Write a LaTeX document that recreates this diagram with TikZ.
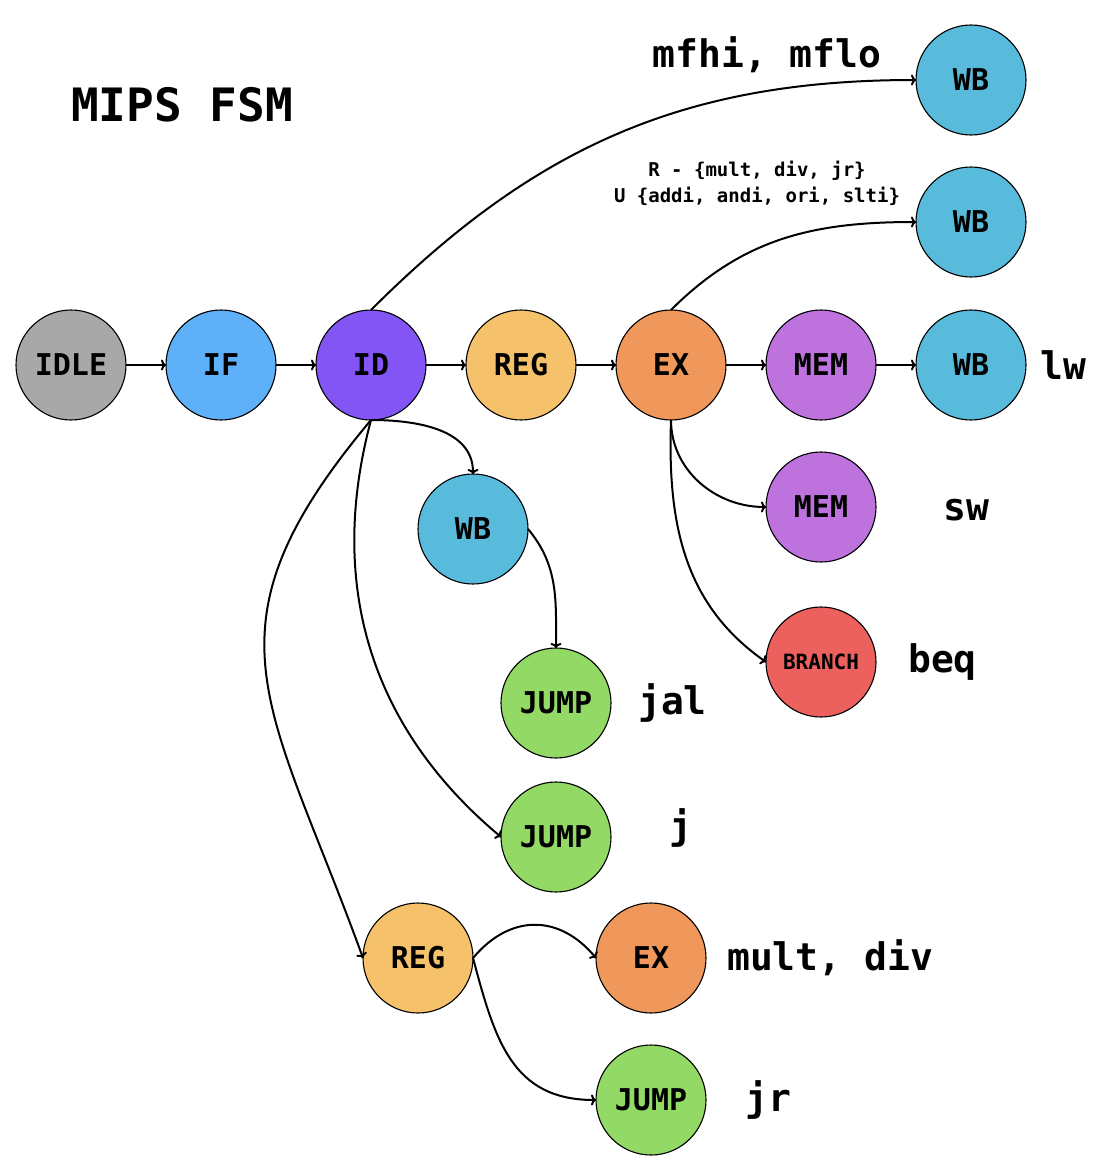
\documentclass[tikz,border=0pt]{standalone}
\usepackage{fontspec}
\setmonofont{DejaVu Sans Mono}
\usetikzlibrary{positioning, arrows.meta}

\definecolor{idlegray}{HTML}{A8A8A8}
\definecolor{ifblue}{HTML}{5EB1F9}
\definecolor{idpurple}{HTML}{8455F5}
\definecolor{regorange}{HTML}{F5C26B}
\definecolor{exorange}{HTML}{F0975B}
\definecolor{mempurple}{HTML}{BE72DE}
\definecolor{wbblue}{HTML}{59BBDB}
\definecolor{jumpgreen}{HTML}{93D966}
\definecolor{branchred}{HTML}{EC605E}

\tikzset{
  fsmstate/.style={circle, draw=black, line width=1.1pt, minimum size=110pt,
    inner sep=0pt, outer sep=0pt, font=\ttfamily\bfseries\fontsize{30}{30}\selectfont},
  trans/.style={-{To[length=5pt, width=11pt]}, line width=2pt},
  instr/.style={inner sep=0pt, font=\ttfamily\bfseries\fontsize{38}{38}\selectfont},
}

\begin{document}
\begin{tikzpicture}[x=1pt, y=-1pt]
\useasboundingbox (0,0) rectangle (1106,1164);

\node[inner sep=0pt, font=\ttfamily\bfseries\fontsize{46}{46}\selectfont] (title) at (182,105) {MIPS FSM};

% main pipeline
\node[fsmstate, fill=idlegray]                    (IDLE) at (71,365) {IDLE};
\node[fsmstate, fill=ifblue, right=40pt of IDLE]  (IF)   {IF};
\node[fsmstate, fill=idpurple, right=40pt of IF]  (ID)   {ID};
\node[fsmstate, fill=regorange, right=40pt of ID] (REG)  {REG};
\node[fsmstate, fill=exorange, right=40pt of REG] (EX)   {EX};
\node[fsmstate, fill=mempurple, right=40pt of EX] (MEM)  {MEM};
\node[fsmstate, fill=wbblue, right=40pt of MEM]   (WBlw) {WB};
\node[instr, right=14pt of WBlw] (lw) {lw};

\draw[trans] (IDLE) -- (IF);
\draw[trans] (IF) -- (ID);
\draw[trans] (ID) -- (REG);
\draw[trans] (REG) -- (EX);
\draw[trans] (EX) -- (MEM);
\draw[trans] (MEM) -- (WBlw);

% R and I type
\node[fsmstate, fill=wbblue, above=33pt of WBlw] (WBr) {WB};
\node[inner sep=0pt, align=center, font=\ttfamily\bfseries\fontsize{19}{26}\selectfont]
  (rtype) at (757,183) {R - \{mult, div, jr\}\\U \{addi, andi, ori, slti\}};
\draw[trans] (EX.north) to[out=45, in=180] (WBr.west);

% mfhi, mflo
\node[fsmstate, fill=wbblue, above=32pt of WBr] (WBhl) {WB};
\node[instr] (mfhi) at (767,55) {mfhi, mflo};
\draw[trans] (ID.north) to[out=45, in=180] (WBhl.west);

% sw
\node[fsmstate, fill=mempurple, below=32pt of MEM] (MEMsw) {MEM};
\node[instr] (sw) at (966,510) {sw};
\draw[trans] (EX.south) to[out=-90, in=180] (MEMsw.west);

% beq
\node[fsmstate, fill=branchred, below=45pt of MEMsw,
  font=\ttfamily\bfseries\fontsize{21}{21}\selectfont] (BR) {BRANCH};
\node[instr, right=32pt of BR] (beq) {beq};
\draw[trans] (EX.south) to[out=-92, in=145] (BR.west);

% jal
\node[fsmstate, fill=wbblue] (WBjal) at (473,529) {WB};
\node[fsmstate, fill=jumpgreen] (Jjal) at (556,703) {JUMP};
\node[instr, right=27pt of Jjal] (jal) {jal};
\draw[trans] (ID.south) to[out=0, in=90] (WBjal.north);
\draw[trans] (WBjal.east) to[out=-50, in=90] (Jjal.north);

% j
\node[fsmstate, fill=jumpgreen, below=24pt of Jjal] (Jj) {JUMP};
\node[instr] (j) at (681,828) {j};
\draw[trans] (ID.south) to[out=-105, in=140] (Jj.west);

% mult, div, jr
\node[fsmstate, fill=regorange] (REGm) at (418,958) {REG};
\node[fsmstate, fill=exorange, right=123pt of REGm] (EXm) {EX};
\node[fsmstate, fill=jumpgreen, below=32pt of EXm] (Jjr) {JUMP};
\node[instr, right=21pt of EXm] (mult) {mult, div};
\node[instr, right=39pt of Jjr] (jr) {jr};
\draw[trans] (ID.south) to[out=-130, in=110, looseness=1.3] (REGm.west);
\draw[trans] (REGm.east) to[out=50, in=130, looseness=1.2] (EXm.west);
\draw[trans] (REGm.east) to[out=-75, in=180, looseness=1.15] (Jjr.west);
\end{tikzpicture}
\end{document}
